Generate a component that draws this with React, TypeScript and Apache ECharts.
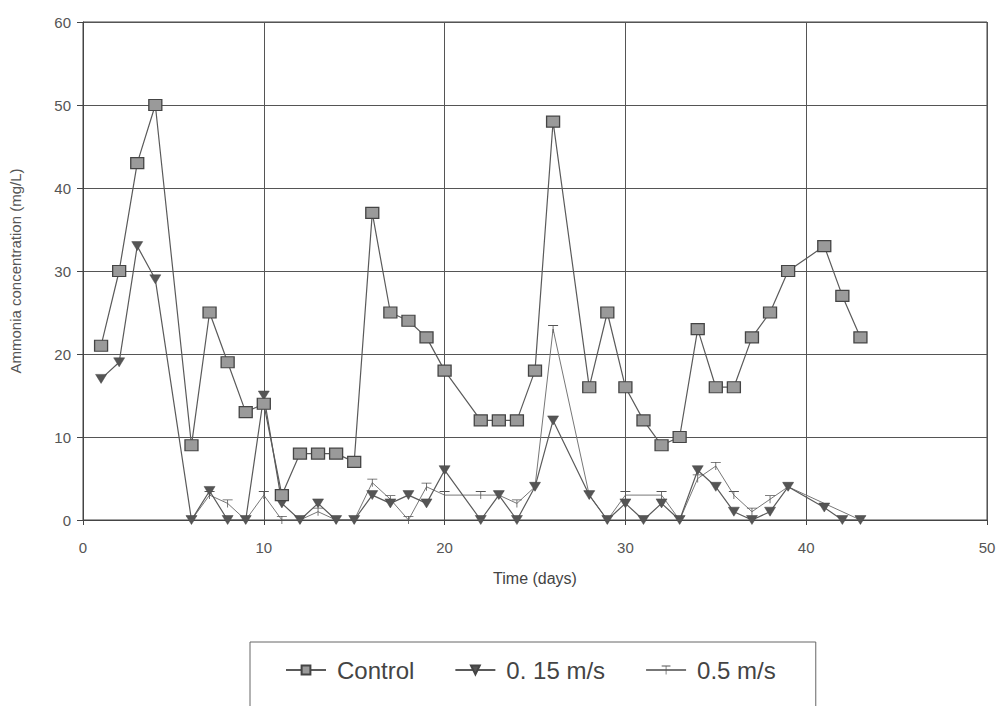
import React, { useEffect, useRef } from "react";
import * as echarts from "echarts";

const controlDays = [1, 2, 3, 4, 6, 7, 8, 9, 10, 11, 12, 13, 14, 15, 16, 17, 18, 19, 20, 22, 23, 24, 25, 26, 28, 29, 30, 31, 32, 33, 34, 35, 36, 37, 38, 39, 41, 42, 43];
const controlValues = [21, 30, 43, 50, 9, 25, 19, 13, 14, 3, 8, 8, 8, 7, 37, 25, 24, 22, 18, 12, 12, 12, 18, 48, 16, 25, 16, 12, 9, 10, 23, 16, 16, 22, 25, 30, 33, 27, 22];

const slowDays = [1, 2, 3, 4, 6, 7, 8, 9, 10, 11, 12, 13, 14, 15, 16, 17, 18, 19, 20, 22, 23, 24, 25, 26, 28, 29, 30, 31, 32, 33, 34, 35, 36, 37, 38, 39, 41, 42, 43];
const slowValues = [17, 19, 33, 29, 0, 3.5, 0, 0, 15, 2, 0, 2, 0, 0, 3, 2, 3, 2, 6, 0, 3, 0, 4, 12, 3, 0, 2, 0, 2, 0, 6, 4, 1, 0, 1, 4, 1.5, 0, 0];

const fastDays = [6, 7, 8, 9, 10, 11, 12, 13, 14, 15, 16, 17, 18, 19, 20, 22, 23, 24, 25, 26, 28, 29, 30, 32, 33, 34, 35, 36, 37, 38, 39, 43];
const fastValues = [0, 3, 2, 0, 3, 0, 0, 1, 0, 0, 4.5, 2.5, 0, 4, 3, 3, 3, 2, 4, 23, 3, 0, 3, 3, 0, 5, 6.5, 3, 1, 2.5, 4, 0];

const seriesNames = ["Control", "0. 15 m/s", "0.5 m/s"];
const xTicks = { min: 0, max: 50, interval: 10 };
const yTicks = { min: 0, max: 60, interval: 10 };

const zip = (xs: number[], ys: number[]) => xs.map((x, i) => [x, ys[i]]);

export default function App() {
  const ref = useRef<HTMLDivElement>(null);
  useEffect(() => {
    document.body.style.margin = "0";
    const chart = echarts.init(ref.current!, null, { renderer: "svg" });
    const font = "Liberation Sans";
    const lineColor = "#5a5a5a";
    chart.setOption({
      animation: false,
      backgroundColor: "#ffffff",
      textStyle: { fontFamily: font },
      grid: {
        left: 82,
        right: 20,
        top: 22,
        bottom: 186,
        show: true,
        borderColor: "#444",
        borderWidth: 1,
      },
      xAxis: {
        type: "value",
        ...xTicks,
        name: "Time (days)",
        nameLocation: "middle",
        nameGap: 50,
        nameTextStyle: { fontSize: 16, color: "#444", fontFamily: font },
        axisLine: { show: true, lineStyle: { color: "#444" } },
        axisTick: { show: true, length: 5, lineStyle: { color: "#444" } },
        axisLabel: { fontSize: 15, color: "#555", margin: 20, fontFamily: font },
        splitLine: { show: true, lineStyle: { color: "#555", width: 1 } },
      },
      yAxis: {
        type: "value",
        ...yTicks,
        name: "Ammonia concentration (mg/L)",
        nameLocation: "middle",
        nameGap: 60,
        nameTextStyle: { fontSize: 15, color: "#555", fontFamily: font },
        axisLine: { show: true, lineStyle: { color: "#444" } },
        axisTick: { show: true, length: 6, lineStyle: { color: "#444" } },
        axisLabel: { fontSize: 15, color: "#555", margin: 12, fontFamily: font },
        splitLine: { show: true, lineStyle: { color: "#555", width: 1 } },
      },
      legend: {
        show: true,
        left: 250,
        top: 642,
        padding: [16, 40, 40, 35],
        itemGap: 40,
        itemWidth: 40,
        itemHeight: 11,
        borderColor: "#666",
        borderWidth: 1,
        textStyle: { fontSize: 24, color: "#444", fontFamily: font, padding: [0, 0, 0, 6] },
        data: seriesNames,
      },
      series: [
        {
          name: seriesNames[0],
          type: "line",
          data: zip(controlDays, controlValues),
          symbol: "rect",
          symbolSize: [13, 11],
          lineStyle: { color: lineColor, width: 1.2 },
          itemStyle: { color: "#9a9a9a", borderColor: "#444", borderWidth: 1.2 },
          z: 3,
        },
        {
          name: seriesNames[1],
          type: "line",
          data: zip(slowDays, slowValues),
          symbol: "triangle",
          symbolRotate: 180,
          symbolSize: [11, 9],
          lineStyle: { color: lineColor, width: 1.2 },
          itemStyle: { color: "#555", borderColor: "#444", borderWidth: 0.5 },
          z: 2,
        },
        {
          name: seriesNames[2],
          type: "line",
          data: zip(fastDays, fastValues),
          symbol: "path://M0,0 L10,0 L10,0.8 L5.4,0.8 L5.4,8 L4.6,8 L4.6,0.8 L0,0.8 Z",
          symbolSize: [10, 8],
          lineStyle: { color: "#777", width: 1 },
          itemStyle: { color: "#555" },
          z: 1,
        },
      ],
    });
    return () => chart.dispose();
  }, []);
  return <div ref={ref} style={{ width: 1007, height: 706 }} />;
}
